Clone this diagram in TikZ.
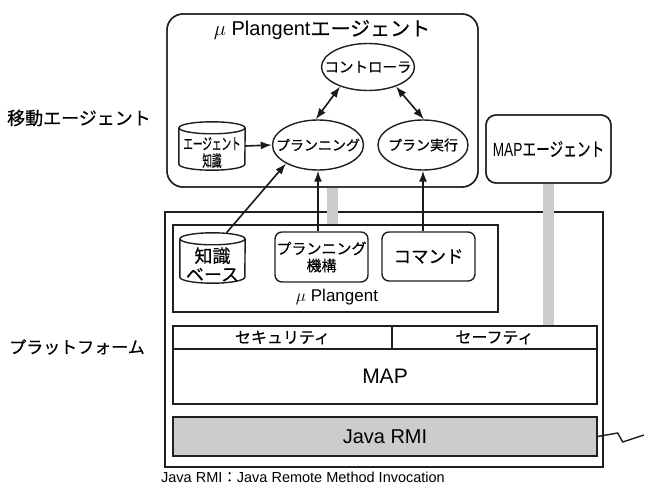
\documentclass[tikz,border=0pt]{standalone}
\usepackage{fontspec}
\usepackage{graphicx}
\setmainfont{Liberation Sans}
\newfontfamily\jp[FakeBold=0.4]{Noto Sans CJK JP}
\usetikzlibrary{arrows.meta,shapes.geometric}

\newcommand{\fs}[1]{\fontsize{#1}{#1}\selectfont}
\newcommand{\fsl}[2]{\fontsize{#1}{#2}\selectfont}
% text that does not widen the ellipse drawn around it
\newcommand{\tight}[1]{\makebox[0pt][c]{#1}}

\tikzset{
  ink/.style={draw=black!88, line width=1.4pt},
  box/.style={ink, rectangle, inner sep=0pt},
  rbox/.style={box, rounded corners=7pt},
  bubble/.style={ink, ellipse, inner sep=0pt, font=\jp\fs{14}},
  label/.style={inner sep=0pt, align=center},
  arr/.style={-{Latex[length=11pt,width=8pt]}, line width=1.6pt, black!90},
  darr/.style={{Latex[length=11pt,width=8pt]}-{Latex[length=11pt,width=8pt]}, line width=1.6pt, black!90},
  graylink/.style={draw=black!20, line width=10.5pt},
  cylbody/.style={inner sep=0pt, minimum width=#1},
}

% cylinder outline around a named, empty node
\newcommand{\cylout}[2]{%
  \draw[ink] ([yshift=-6pt]#1.north west) -- ([yshift=6pt]#1.south west)
    arc[start angle=180, end angle=360, x radius=#2, y radius=6pt]
    -- ([yshift=-6pt]#1.north east);
  \draw[ink] ([yshift=-6pt]#1.north) ellipse[x radius=#2, y radius=6pt];
}

\begin{document}
\begin{tikzpicture}[x=1pt, y=1pt]
\useasboundingbox (0,0) rectangle (645,496);

% ---------- platform frame and the grey links (drawn first) ----------
\node[box, minimum width=438pt, minimum height=255pt] (plat) at (384,156.5) {};
\node[rbox, rounded corners=10pt, minimum width=125pt, minimum height=68pt,
      font=\fs{19}] (mapag) at (548.5,347) {\scalebox{0.72}[1]{MAP{\jp エージェント}}};
\node[box, minimum width=205pt, minimum height=23pt, font=\jp\fs{16}] (safe) at (494.5,158.5) {セーフティ};
\node[rbox, rounded corners=16pt, minimum width=311pt, minimum height=173pt] (agent) at (322.5,395.5) {};
\node[box, minimum width=325pt, minimum height=87pt] (mup) at (335.5,227.5) {};

\coordinate (g1) at (332.5,0);
\draw[graylink] (agent.south -| g1) -- (mup.north -| g1);
\draw[graylink] (mapag.south) -- (mapag.south |- safe.north);

% redraw frames over the links where they belong
\node[rbox, rounded corners=16pt, minimum width=311pt, minimum height=173pt] at (322.5,395.5) {};
\node[box, minimum width=325pt, minimum height=87pt] at (335.5,227.5) {};
\node[box, minimum width=205pt, minimum height=23pt] at (494.5,158.5) {};
\node[rbox, rounded corners=10pt, minimum width=125pt, minimum height=68pt] at (548.5,347) {};

% ---------- mobile agent ----------
\node[label, font=\fs{20}] (agtitle) at (322,466) {$\mu$ Plangent{\jp エージェント}};
\node[bubble, minimum width=93pt, minimum height=47pt, font=\jp\fs{14.5}] (ctrl) at (368,429) {\tight{コントローラ}};
\node[bubble, minimum width=91pt, minimum height=50pt] (plan) at (318,351) {\tight{プランニング}};
\node[bubble, minimum width=90pt, minimum height=50pt] (exec) at (423,351) {\tight{プラン実行}};

\node[cylbody=66pt, minimum height=48pt] (ak) at (212,350) {};
\cylout{ak}{33pt}
\node[label, font={\jp\fsl{16}{17}}] (aktext) at (212,343.5)
  {\scalebox{0.6}[1]{エージェント}\\\scalebox{0.6}[1]{知識}};

% ---------- platform contents ----------
\node[cylbody=65pt, minimum height=50pt] (kb) at (212.5,238) {};
\cylout{kb}{32.5pt}
\node[label, font={\jp\fsl{18}{18.5}}] (kbtext) at (212.5,231.5) {知識\\ベース};

\node[rbox, minimum width=93pt, minimum height=50pt, align=center,
      font={\jp\fsl{15}{17}}] (pm) at (321.5,239) {プランニング\\機構};
\node[rbox, minimum width=93pt, minimum height=49pt, font=\jp\fs{17.5}] (cmd) at (428.5,239.5) {コマンド};
\node[label, font=\fs{17}] (mulabel) at (337,199) {$\mu$ Plangent};

\node[box, minimum width=219pt, minimum height=23pt, font=\jp\fs{16}] (sec) at (282.5,158.5) {セキュリティ};
\node[box, minimum width=424pt, minimum height=55pt, font=\fs{21}] (map) at (385,119.5) {MAP};
\node[box, fill=black!20, minimum width=424pt, minimum height=39pt, font=\fs{20}] (rmi) at (385,59.5) {Java RMI};

% network line leaving to the right
\coordinate (zz) at (644,61);
\draw[ink] (rmi.east) -- ++(20,3.5) -- ++(5,-9) -- (zz);

% ---------- connectors ----------
\draw[arr] (ak.east) -- (plan.west);
\draw[darr] (ctrl.215) -- (plan.95);
\draw[darr] (ctrl.325) -- (exec.88);
\draw[arr] ([xshift=14pt]kb.north) -- (plan.210);
\draw[arr] (pm.north -| plan.south) -- (plan.south);
\draw[arr] (cmd.north -| exec.south) -- (exec.south);

% ---------- side labels and note ----------
\node[label, font=\jp\fs{18}] (mob) at (79,378) {移動エージェント};
\node[label, font=\jp\fs{17}] (platlbl) at (77,149) {プラットフォーム};
\node[label, font=\fs{14.5}] (note) at (303,19) {Java RMI{\jp ：}Java Remote Method Invocation};

\end{tikzpicture}
\end{document}
